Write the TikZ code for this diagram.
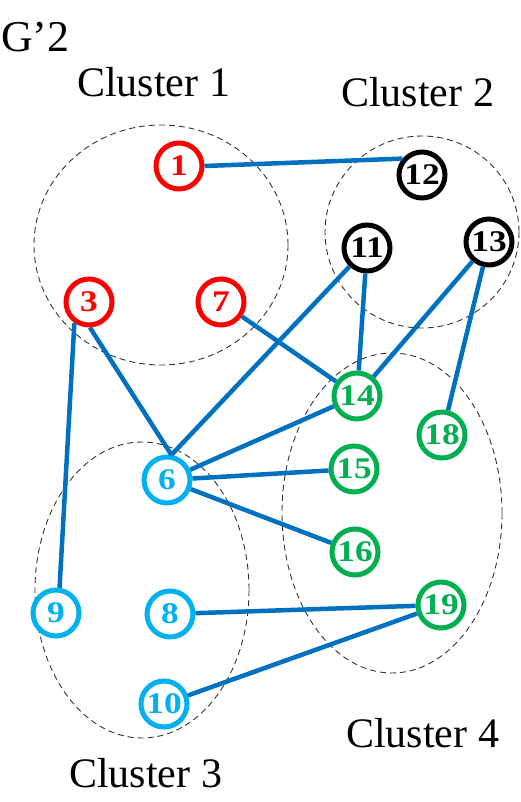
\documentclass[tikz,border=0pt]{standalone}
\usepackage{fontspec}
\setmainfont{Liberation Serif}
\newfontfamily\numfont[FakeStretch=1.18]{Liberation Serif}
\definecolor{edgeblue}{HTML}{0070C0}
\definecolor{nred}{HTML}{FF0000}
\definecolor{ncyan}{HTML}{00B0F0}
\definecolor{ngreen}{HTML}{00B050}
\begin{document}
\begin{tikzpicture}[x=1pt,y=-1pt,
  vnode/.style={circle,draw,line width=5pt,minimum size=46pt,inner sep=0pt,fill=white,
    font=\numfont\fontsize{30}{32}\selectfont\bfseries},
  rednode/.style={vnode,draw=nred,text=nred},
  blacknode/.style={vnode,draw=black,text=black},
  cyannode/.style={vnode,draw=ncyan,text=ncyan},
  greennode/.style={vnode,draw=ngreen,text=ngreen},
  link/.style={draw=edgeblue,line width=4.5pt},
  cluster/.style={draw=black!80,line width=0.9pt,dash pattern=on 6pt off 4pt},
  lbl/.style={anchor=base west,inner sep=0pt,font=\fontsize{42}{50}\selectfont}]
\useasboundingbox (0,0) rectangle (520,802);
% clusters
\draw[cluster] (161,245) ellipse [x radius=127, y radius=120];
\draw[cluster] (422,232) ellipse [x radius=97, y radius=96];
\draw[cluster] (142,590) ellipse [x radius=107, y radius=148];
\draw[cluster] (392,513) ellipse [x radius=110, y radius=160];
% labels
\node[lbl,font=\fontsize{44}{50}\selectfont] (g) at (1,52) {G’2};
\node[lbl] (c1) at (77,97) {Cluster 1};
\node[lbl] (c2) at (341,107) {Cluster 2};
\node[lbl] (c3) at (69,787) {Cluster 3};
\node[lbl] (c4) at (346,747) {Cluster 4};
% nodes
\node[rednode] (n1) at (179,166) {1};
\node[rednode] (n3) at (89,302) {3};
\node[rednode] (n7) at (221,302) {7};
\node[blacknode] (n12) at (422,175) {12};
\node[blacknode] (n11) at (367,248) {11};
\node[blacknode] (n13) at (489,242) {13};
\node[greennode] (n14) at (357,396) {14};
\node[greennode] (n18) at (442,435) {18};
\node[greennode] (n15) at (354,469) {15};
\node[greennode] (n16) at (355,552) {16};
\node[greennode] (n19) at (441,605) {19};
\node[cyannode] (n6) at (167,480) {6};
\node[cyannode] (n9) at (56,613) {9};
\node[cyannode] (n8) at (170,614) {8};
\node[cyannode] (n10) at (164,704) {10};
% edges
\draw[link] (n1.east) -- (n12.140);
\draw[link] (n3.235) -- (n9.82);
\draw[link] (n3.272) -- (n6.80);
\draw[link] (n11) -- (n6.80);
\draw[link] (n7) -- (n14);
\draw[link] (n11) -- (n14);
\draw[link] (n13) -- (n14);
\draw[link] (n13) -- (n18);
\draw[link] (n6) -- (n14);
\draw[link] (n6) -- (n15);
\draw[link] (n6) -- (n16);
\draw[link] (n8) -- (n19);
\draw[link] (n10) -- (n19);
\end{tikzpicture}
\end{document}
